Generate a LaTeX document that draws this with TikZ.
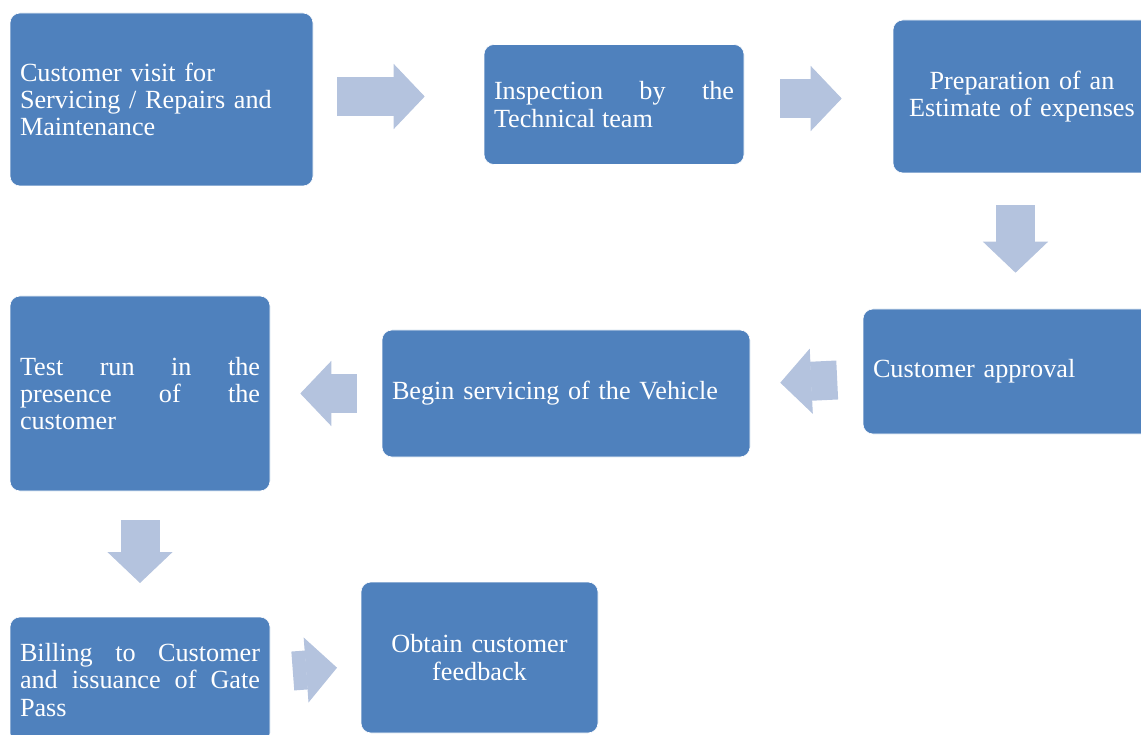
\documentclass[tikz,border=0pt]{standalone}
\usepackage{fontspec}
\setmainfont{Liberation Serif}
\usetikzlibrary{arrows.meta}
\setlength{\parindent}{0pt}
\definecolor{boxblue}{RGB}{79,129,189}
\definecolor{arrowblue}{RGB}{180,195,222}
\tikzset{
  stepbox/.style={rectangle, rounded corners=10pt, fill=boxblue, draw=white, line width=0.6pt,
    text=white, inner xsep=10pt, inner ysep=0pt, font=\fontsize{26.2}{27.2}\selectfont},
  flowarrow/.style={draw=arrowblue, line width=39pt,
    -{Triangle[length=31pt,width=65pt,line width=1.2pt]}}
}
\begin{document}
\begin{tikzpicture}[x=1pt,y=-1pt]
  \useasboundingbox (0,0) rectangle (1141,735);
  % steps
  \node[stepbox, minimum width=303pt, minimum height=173pt, text width=283pt, align=left] (visit) at (161.5,99.5) {Customer visit for\\Servicing / Repairs and\\Maintenance};
  \node[stepbox, minimum width=260pt, minimum height=120pt, text width=240pt, align=justify] (inspect) at (614,104.5) {Inspection by the\linebreak Technical team};
  \node[stepbox, minimum width=258pt, minimum height=153pt, text width=238pt, align=center] (estimate) at (1022,96.5) {Preparation of an\\Estimate of expenses};
  \node[stepbox, minimum width=288pt, minimum height=125pt, text width=268pt, align=left] (approval) at (1007,371.5) {Customer approval};
  \node[stepbox, minimum width=368pt, minimum height=127pt, text width=348pt, align=left] (servicing) at (566,393.5) {Begin servicing of the Vehicle};
  \node[stepbox, minimum width=260pt, minimum height=195pt, text width=240pt, align=justify] (testrun) at (140,393.5) {Test run in the\linebreak presence of the\linebreak customer};
  \node[stepbox, minimum width=260pt, minimum height=126pt, text width=240pt, align=justify] (billing) at (140,680) {Billing to Customer\linebreak and issuance of Gate\linebreak Pass};
  \node[stepbox, minimum width=237pt, minimum height=151pt, text width=217pt, align=center] (feedback) at (479.5,657.5) {Obtain customer\\feedback};
  % arrows
  \draw[flowarrow] ([shift={(24,-3)}]visit.east) -- ([shift={(-59,-8)}]inspect.west);
  \draw[flowarrow] ([shift={(36,-6)}]inspect.east) -- ([shift={(-51,2)}]estimate.west);
  \draw[flowarrow] ([shift={(-6.5,32)}]estimate.south) -- ([shift={(8.5,-36)}]approval.north);
  \draw[flowarrow] ([shift={(-25.5,8.5)}]approval.west) -- ([shift={(30,-10.8)}]servicing.east);
  \draw[flowarrow] ([shift={(-25,0)}]servicing.west) -- ([shift={(30,0)}]testrun.east);
  \draw[flowarrow] ([shift={(0,29)}]testrun.south) -- ([shift={(0,-33.7)}]billing.north);
  \draw[flowarrow] ([shift={(22.5,-9)}]billing.east) -- ([shift={(-23.7,10.2)}]feedback.west);
\end{tikzpicture}
\end{document}
